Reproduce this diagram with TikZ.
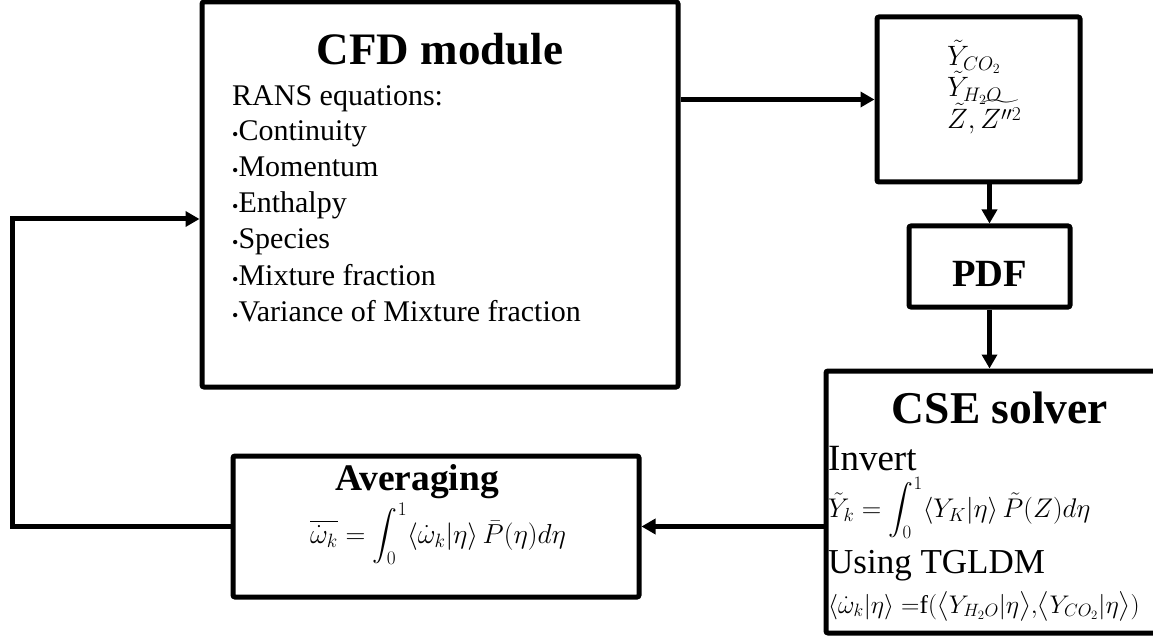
\RequirePackage{fix-cm}
\documentclass[tikz,border=0pt]{standalone}
\usepackage{fontspec}
\setmainfont{Liberation Serif}
\usepackage{amsmath}
\usetikzlibrary{arrows.meta}
\newcommand{\mybul}{{\fontsize{18}{18}\selectfont\textbullet}}
\begin{document}
\begin{tikzpicture}[x=1pt,y=-1pt,
  box/.style={draw, line width=5pt, rounded corners=2pt, inner sep=0pt, fill=white},
  arr/.style={line width=5pt, -{Triangle[length=14pt,width=15pt]}},
  txt/.style={inner sep=0pt, anchor=base west},
  ttl/.style={inner sep=0pt, anchor=base, font=\bfseries\fontsize{#1}{#1}\selectfont},
  body/.style={inner sep=0pt, anchor=base west, font=\fontsize{30}{34}\selectfont}]
\useasboundingbox (0,0) rectangle (1153,636);
\clip (0,0) rectangle (1153,636);
% boxes
\node[box, minimum width=476pt, minimum height=385pt] (cfd) at (440,194.5) {};
\node[box, minimum width=203pt, minimum height=165pt] (vars) at (978.5,99.5) {};
\node[box, minimum width=161pt, minimum height=81pt] (pdf) at (989.5,266.5) {};
\node[box, minimum width=344pt, minimum height=262pt] (cse) at (998,502) {};
\node[box, minimum width=406pt, minimum height=141pt] (avg) at (436,526.5) {};
% CFD text
\node[ttl=45] (cfdt) at (440,65) {CFD module};
\node[body] (c0) at (232,106) {RANS equations:};
\node[body] (c1) at (232,141) {\mybul Continuity};
\node[body] (c2) at (232,177) {\mybul Momentum};
\node[body] (c3) at (232,213) {\mybul Enthalpy};
\node[body] (c4) at (232,249) {\mybul Species};
\node[body] (c5) at (232,285) {\mybul Mixture fraction};
\node[body] (c6) at (232,321) {\mybul Variance of Mixture fraction};
% vars text
\node[txt, font=\fontsize{28}{28}\selectfont] (v1) at (947,66) {$\tilde{Y}_{CO_2}$};
\node[txt, font=\fontsize{28}{28}\selectfont] (v2) at (947,97) {$\tilde{Y}_{H_2O}$};
\node[txt, font=\fontsize{28}{28}\selectfont] (v3) at (947,129) {$\tilde{Z},\widetilde{Z''^{2}}$};
% PDF
\node[ttl=38.5] (pdft) at (989.5,287) {PDF};
% CSE text
\node[ttl=45.5] (cset) at (1000,423) {CSE solver};
\node[txt, font=\fontsize{37}{37}\selectfont] (inv) at (828,470) {Invert};
\node[txt, font=\fontsize{27}{27}\selectfont] (eq1) at (828,517) {$\tilde{Y}_k = \displaystyle\int_0^1 \langle Y_K|\eta\rangle\,\tilde{P}(Z)d\eta$};
\node[txt, font=\fontsize{35}{35}\selectfont] (use) at (828,573) {Using TGLDM};
\node[txt, font=\fontsize{25.5}{25.5}\selectfont] (eq2) at (828,613) {$\langle\dot{\omega}_k|\eta\rangle =$f$(\bigl\langle Y_{H_2O}|\eta\bigr\rangle,\!\bigl\langle Y_{CO_2}|\eta\bigr\rangle)$};
% Averaging text
\node[ttl=37.5] (avgt) at (417,490) {Averaging};
\node[inner sep=0pt, anchor=base, font=\fontsize{27.5}{27.5}\selectfont] (eq3) at (438,543) {$\overline{\dot{\omega}_k} = \displaystyle\int_0^1 \langle\dot{\omega}_k|\eta\rangle\,\bar{P}(\eta)d\eta$};
% connectors
\coordinate (fb) at (12,219);
\draw[arr] (cfd.east |- vars.west) -- (vars.west);
\draw[arr] (pdf.north |- vars.south) -- (pdf.north);
\draw[arr] (pdf.south) -- (pdf.south |- cse.north);
\draw[arr] (cse.west |- avg.east) -- (avg.east);
\draw[arr] (avg.west) -| (fb) -- (cfd.west |- fb);
\end{tikzpicture}
\end{document}
